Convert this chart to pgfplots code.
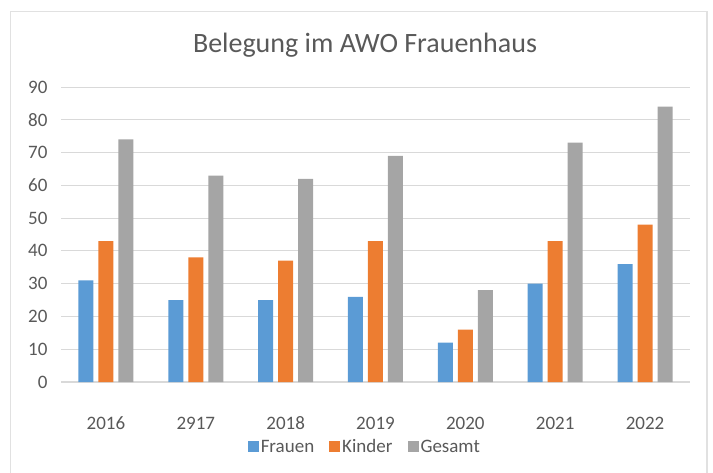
\documentclass[border=0pt]{standalone}
\usepackage{fontspec}
\setmainfont{Carlito}
\usepackage{pgfplots}
\pgfplotsset{compat=1.18}
\definecolor{cF}{HTML}{5B9BD5}
\definecolor{cK}{HTML}{ED7D31}
\definecolor{cG}{HTML}{A5A5A5}
\definecolor{txt}{HTML}{595959}
\definecolor{grid}{HTML}{D9D9D9}
\begin{document}
\begin{tikzpicture}[x=1pt,y=1pt]
\useasboundingbox (0,0) rectangle (713,472);
\draw[color=grid!80, line width=1.2pt] (10.5,-5) -- (10.5,460.5) -- (707,460.5) -- (707,-5);
\node[text=txt, font=\fontsize{28}{32}\selectfont] at (365,427) {Belegung im AWO Frauenhaus};
\begin{axis}[
  at={(61pt,90pt)}, anchor=south west,
  scale only axis, width=629pt, height=295pt,
  ybar=5pt, bar width=15pt,
  xmin=-0.5, xmax=6.5, ymin=0, ymax=90,
  ytick={0,10,...,90},
  xtick={0,...,6},
  xticklabels={2016,2917,2018,2019,2020,2021,2022},
  axis line style={draw=none},
  axis x line*=bottom, axis y line*=left,
  tick style={draw=none},
  ymajorgrids, grid style={color=grid, line width=0.9pt},
  ticklabel style={text=txt, font=\fontsize{19}{22}\selectfont},
  /pgf/number format/assume math mode=true,
  yticklabel style={anchor=east, xshift=-10pt},
  xticklabel style={anchor=north, yshift=-27pt},
  legend style={at={(0.483,-0.22)}, anchor=center, draw=none, fill=none,
    legend columns=3, font=\fontsize{19}{22}\selectfont, text=txt,
    /tikz/every even column/.append style={column sep=13pt}},
  legend image code/.code={\fill[#1] (0pt,-5.5pt) rectangle (11pt,5.5pt);},
  clip=false,
]
\draw[grid, line width=1.2pt] (axis cs:-0.5,0) -- (axis cs:6.5,0);
\addplot[fill=cF, draw=none] coordinates {(0,31) (1,25) (2,25) (3,26) (4,12) (5,30) (6,36)};
\addplot[fill=cK, draw=none] coordinates {(0,43) (1,38) (2,37) (3,43) (4,16) (5,43) (6,48)};
\addplot[fill=cG, draw=none] coordinates {(0,74) (1,63) (2,62) (3,69) (4,28) (5,73) (6,84)};
\legend{Frauen,Kinder,Gesamt}
\end{axis}
\end{tikzpicture}
\end{document}
